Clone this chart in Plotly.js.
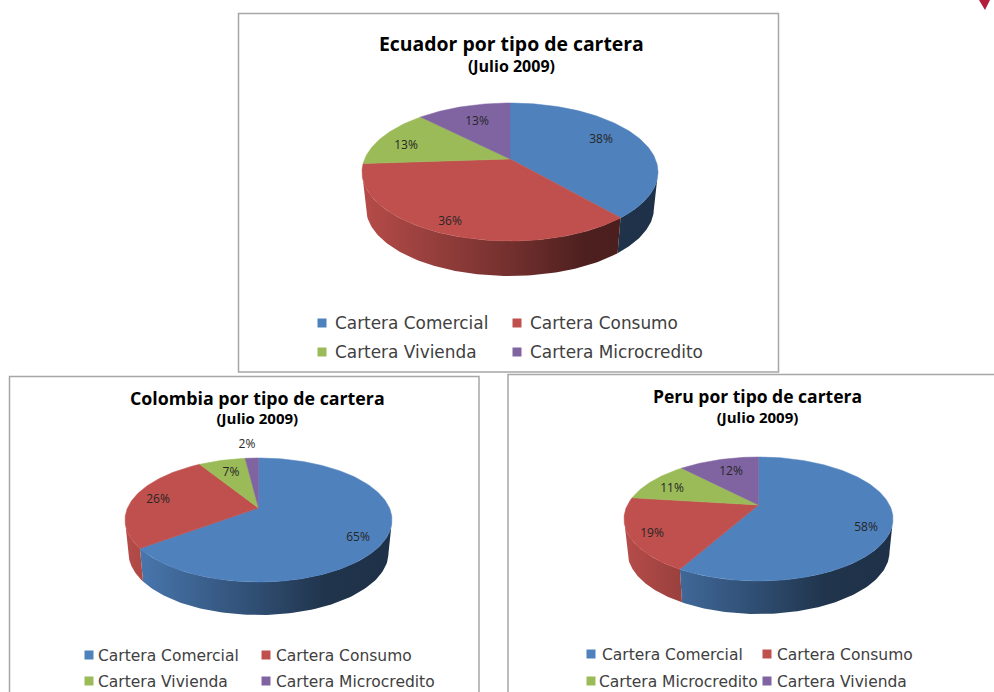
<!DOCTYPE html>
<html><head><meta charset="utf-8">
<script src="https://cdn.plot.ly/plotly-3.0.1.min.js"></script>
<style>html,body{margin:0;padding:0;background:#fff}#c{width:994px;height:692px}</style>
</head><body><div id="c"></div><script>
// ---- data ----
const ecuadorSeries = ['Cartera Comercial','Cartera Consumo','Cartera Vivienda','Cartera Microcredito'];
const ecuadorValues = [38,36,13,13];
const colombiaSeries = ['Cartera Comercial','Cartera Consumo','Cartera Vivienda','Cartera Microcredito'];
const colombiaValues = [65,26,7,2];
const peruSeries = ['Cartera Comercial','Cartera Consumo','Cartera Microcredito','Cartera Vivienda'];
const peruValues = [58,19,11,12];
// ---- style / layout ----
const COLORS = [[79,129,189],[192,80,77],[155,187,89],[128,100,162]];
const FONT = '"Open Sans", sans-serif';
const LEGFONT = '"DejaVu Sans", sans-serif';
const panels = [
 {title:'Ecuador por tipo de cartera', sub:'(Julio 2009)', tx:511, ty:53.2, lh:16.2, ts:19.4, ss:16,
  names:ecuadorSeries, values:ecuadorValues,
  ax:510, ay:159, rx:148, cy:172, ry:69, rx2:144, cy2:208, ry2:68, k:0.5,
  lab:[[601,140],[450,222],[406,146],[477,122]],
  legS:[[322,323],[517,323],[322,352],[517,352]], legT:[[335,325],[530,325],[335,354],[530,354]], ls:16.9},
 {title:'Colombia por tipo de cartera', sub:'(Julio 2009)', tx:257, ty:406.5, lh:14.8, ts:17.8, ss:15,
  names:colombiaSeries, values:colombiaValues,
  ax:258.5, ay:508, rx:133.5, cy:520, ry:62, rx2:130, cy2:553, ry2:62, k:0.47,
  lab:[[358,538],[158,500],[231,473],[247,445]],
  legS:[[89,655],[266,655],[89,681],[266,681]], legT:[[98,657],[276,657],[98,683],[276,683]], ls:15.5},
 {title:'Peru por tipo de cartera', sub:'(Julio 2009)', tx:757, ty:405, lh:15.2, ts:17.5, ss:15,
  names:peruSeries, values:peruValues,
  ax:758.5, ay:505, rx:134.5, cy:519, ry:62, rx2:131, cy2:552, ry2:62, k:0.45,
  lab:[[866,528],[652,534],[672,489],[731,472]],
  legS:[[591,654],[767,654],[591,681],[767,681]], legT:[[602,656],[777,656],[599,683],[777,683]], ls:15.5}
];
const SHADE = [[0,.95],[.5,.6],[.75,.4],[1,.38]];
const traces = [], annotations = [];
const rgb = (c,f=1)=>`rgb(${c.map(v=>Math.round(v*f)).join(',')})`;

panels.forEach(p=>{
  const total = p.values.reduce((a,b)=>a+b,0);
  const rim = thDeg=>{
    const t = thDeg*Math.PI/180, dx=Math.sin(t), dy=-p.k*Math.cos(t);
    const a=(dx/p.rx)**2+(dy/p.ry)**2;
    const ey=(p.ay-p.cy)/p.ry;
    const b=2*(ey*dy/p.ry), c=ey*ey-1;
    const s=(-b+Math.sqrt(b*b-4*a*c))/(2*a);
    const x=p.ax+s*dx, y=p.ay+s*dy;
    let phi=Math.atan2((x-p.ax)/p.rx,-(y-p.cy)/p.ry);
    if(phi<0) phi+=2*Math.PI;
    if(thDeg>=360) phi=2*Math.PI;
    return {x,y,phi};
  };
  // side walls
  let cum=0;
  const slices=p.values.map(v=>{const a=cum/total*360;cum+=v;return [a,cum/total*360];});
  slices.forEach(([a,b],i)=>{
    const lo=Math.max(rim(a).phi,Math.PI/2), hi=Math.min(rim(b).phi,1.5*Math.PI);
    if(lo>=hi) return;
    const xs=[],ys=[],n=90;
    for(let j=0;j<=n;j++){const f=lo+(hi-lo)*j/n;xs.push(p.ax+p.rx*Math.sin(f));ys.push(p.cy-p.ry*Math.cos(f));}
    for(let j=n;j>=0;j--){const f=lo+(hi-lo)*j/n;xs.push(p.ax+p.rx2*Math.sin(f));ys.push(p.cy2-p.ry2*Math.cos(f));}
    xs.push(xs[0]);ys.push(ys[0]);
    traces.push({type:'scatter',mode:'lines',x:xs,y:ys,fill:'toself',line:{width:0},hoverinfo:'skip',showlegend:false,
      fillgradient:{type:'horizontal',start:p.ax-p.rx,stop:p.ax+p.rx,
        colorscale:SHADE.map(([q,f])=>[q,rgb(COLORS[i],f)])}});
  });
  // top face
  slices.forEach(([a,b],i)=>{
    const xs=[p.ax],ys=[p.ay];
    const n=Math.max(4,Math.ceil(b-a));
    for(let j=0;j<=n;j++){const r=rim(a+(b-a)*j/n);xs.push(r.x);ys.push(r.y);}
    xs.push(p.ax);ys.push(p.ay);
    traces.push({type:'scatter',mode:'lines',x:xs,y:ys,fill:'toself',fillcolor:rgb(COLORS[i]),
      line:{width:0.5,color:rgb(COLORS[i])},name:p.names[i],text:p.values[i]+'%',hoverinfo:'name+text',showlegend:false});
  });
  // percent labels
  traces.push({type:'scatter',mode:'text',x:p.lab.map(l=>l[0]),y:p.lab.map(l=>l[1]),
    text:p.values.map(v=>v+'%'),textposition:'middle center',
    textfont:{family:FONT,size:12,color:'#262626'},hoverinfo:'skip',showlegend:false});
  // legend
  traces.push({type:'scatter',mode:'markers',x:p.legS.map(l=>l[0]),y:p.legS.map(l=>l[1]),
    marker:{symbol:'square',size:9,color:COLORS.map(c=>rgb(c))},hoverinfo:'skip',showlegend:false});
  traces.push({type:'scatter',mode:'text',x:p.legT.map(l=>l[0]),y:p.legT.map(l=>l[1]),
    text:p.names,textposition:'middle right',
    textfont:{family:LEGFONT,size:p.ls,color:'#404040'},hoverinfo:'skip',showlegend:false});
  annotations.push({xref:'x',yref:'y',x:p.tx,y:p.ty,showarrow:false,
    text:`<span style="font-size:${p.ts}px"><b>${p.title}</b></span><br><span style="font-size:${p.ss}px"><b>${p.sub}</b></span>`,
    font:{family:FONT,size:p.lh,color:'#000'}});
});

const frame='#a6a6a6';
const layout={width:994,height:692,margin:{l:0,r:0,t:0,b:0},paper_bgcolor:'#fff',plot_bgcolor:'#fff',showlegend:false,
  xaxis:{range:[0,994],visible:false,fixedrange:true},
  yaxis:{range:[692,0],visible:false,fixedrange:true},
  annotations,
  shapes:[
   {type:'rect',x0:238.5,y0:13.5,x1:778.5,y1:372,line:{color:frame,width:1.5},layer:'below'},
   {type:'path',path:'M9.5,692 L9.5,376.5 L479,376.5 L479,692',line:{color:frame,width:1.5},layer:'below'},
   {type:'path',path:'M508,692 L508,374.5 L994,374.5',line:{color:frame,width:1.5},layer:'below'},
   {type:'path',path:'M979,0 L990,0 L985,10 Z',fillcolor:'#b01e3c',line:{width:0}}
  ]};
Plotly.newPlot('c',traces,layout,{displayModeBar:false});
</script></body></html>
